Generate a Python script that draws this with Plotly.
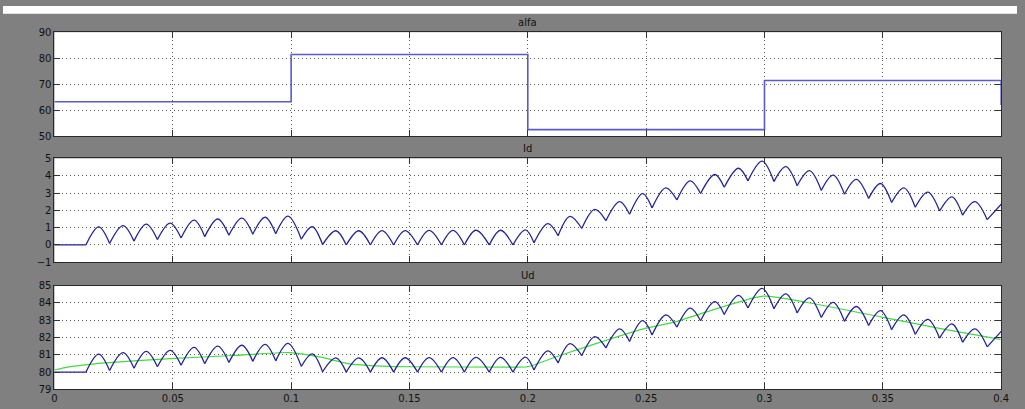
import plotly.graph_objects as go

# ---------------- data ----------------
# alfa (firing angle) step signal
alfa_t = [0.0, 0.1, 0.2, 0.3, 0.4]
alfa_v = [63.2, 81.4, 52.5, 71.4, 62.0]

# Id ripple: start, peaks and troughs
id_start_t = [0.0, 0.0133]
id_start_v = [0.0, 0.0]
id_peak_t = [0.0187, 0.0290, 0.0388, 0.0489, 0.0590, 0.0690, 0.0792, 0.0890, 0.0987,
             0.1089, 0.1189, 0.1286, 0.1384, 0.1482, 0.1583, 0.1684, 0.1781, 0.1885, 0.1990,
             0.2085, 0.2178, 0.2283, 0.2388, 0.2485, 0.2583, 0.2686, 0.2790, 0.2890, 0.2990,
             0.3090, 0.3190, 0.3290, 0.3388, 0.3490, 0.3589, 0.3690, 0.3792, 0.3889, 0.4000]
id_peak_v = [1.04, 1.12, 1.20, 1.26, 1.43, 1.50, 1.55, 1.60, 1.66,
             1.05, 0.82, 0.82, 0.83, 0.83, 0.84, 0.84, 0.85, 0.85, 0.87,
             1.23, 1.65, 2.05, 2.50, 2.97, 3.30, 3.70, 4.07, 4.43, 4.84,
             4.52, 4.29, 4.03, 3.79, 3.55, 3.30, 3.05, 2.78, 2.50, 2.35]
id_trough_t = [0.0233, 0.0336, 0.0435, 0.0535, 0.0635, 0.0737, 0.0838, 0.0935,
               0.1043, 0.1133, 0.1233, 0.1335, 0.1433, 0.1534, 0.1635, 0.1732, 0.1837, 0.1937,
               0.2026, 0.2128, 0.2228, 0.2330, 0.2430, 0.2525, 0.2630, 0.2730, 0.2830, 0.2930,
               0.3040, 0.3138, 0.3240, 0.3338, 0.3440, 0.3537, 0.3637, 0.3740, 0.3837, 0.3941]
id_trough_v = [0.09, 0.22, 0.31, 0.40, 0.48, 0.56, 0.62, 0.65,
               0.33, 0.02, 0.0, 0.0, 0.0, 0.0, 0.0, 0.0, 0.0, 0.0,
               0.12, 0.53, 0.95, 1.40, 1.77, 2.14, 2.60, 2.97, 3.33, 3.70,
               3.66, 3.42, 3.15, 2.93, 2.69, 2.45, 2.18, 1.96, 1.72, 1.46]

# Ud ripple (same instants as Id)
ud_start_v = [80.0, 80.0]
ud_peak_v = [81.04, 81.12, 81.20, 81.26, 81.43, 81.50, 81.55, 81.60, 81.66,
             81.05, 80.82, 80.82, 80.83, 80.83, 80.84, 80.84, 80.85, 80.85, 80.87,
             81.23, 81.65, 82.05, 82.50, 82.97, 83.30, 83.70, 84.07, 84.43, 84.84,
             84.52, 84.29, 84.03, 83.79, 83.55, 83.30, 83.05, 82.78, 82.50, 82.35]
ud_trough_v = [80.09, 80.22, 80.31, 80.40, 80.48, 80.56, 80.62, 80.65,
               80.33, 80.02, 80.0, 80.0, 80.0, 80.0, 80.0, 80.0, 80.0, 80.0,
               80.12, 80.53, 80.95, 81.40, 81.77, 82.14, 82.60, 82.97, 83.33, 83.70,
               83.66, 83.42, 83.15, 82.93, 82.69, 82.45, 82.18, 81.96, 81.72, 81.46]

# Ud mean (green)
udm_t = [0.0, 0.006, 0.013, 0.02, 0.035, 0.049, 0.0757, 0.0993, 0.112, 0.1245, 0.1384,
         0.15, 0.194, 0.2, 0.2136, 0.25, 0.2624, 0.271, 0.2995, 0.318, 0.3495, 0.3739, 0.3997]
udm_v = [80.12, 80.3, 80.42, 80.52, 80.66, 80.78, 80.96, 81.13, 80.88, 80.48, 80.35,
         80.31, 80.29, 80.31, 80.96, 82.54, 82.9, 83.28, 84.39, 84.02, 83.18, 82.53, 81.89]

x_ticks = [0, 0.05, 0.1, 0.15, 0.2, 0.25, 0.3, 0.35, 0.4]
x_ticktext = ["0", "0.05", "0.1", "0.15", "0.2", "0.25", "0.3", "0.35", "0.4"]
titles = ["alfa", "Id", "Ud"]


def arches(start_t, start_v, pt, pv, tt, tv):
    """Build trough-peak-trough segments (separated by gaps) so each hump is
    smoothed on its own and the troughs stay sharp cusps."""
    lows = [(start_t[-1], start_v[-1])] + list(zip(tt, tv))
    highs = list(zip(pt, pv))
    xs, ys = [], []
    for i, (ht, hv) in enumerate(highs):
        lt, lv = lows[i]
        xs += [lt, ht]
        ys += [lv, hv]
        if i + 1 < len(lows):
            xs.append(lows[i + 1][0])
            ys.append(lows[i + 1][1])
        xs.append(None)
        ys.append(None)
    return xs, ys


id_x, id_y = arches(id_start_t, id_start_v, id_peak_t, id_peak_v, id_trough_t, id_trough_v)
ud_x, ud_y = arches(id_start_t, ud_start_v, id_peak_t, ud_peak_v, id_trough_t, ud_trough_v)

# ---------------- figure ----------------
W, H = 1025, 409
fig = go.Figure()

BLUE = "#24249e"
ALFA = "#5a5ad0"
GREEN = "#3fdc3f"
fig.add_trace(go.Scatter(x=alfa_t, y=alfa_v, mode="lines", line=dict(color=ALFA, width=1.6, shape="hv"),
                         xaxis="x", yaxis="y", showlegend=False))
# Id
fig.add_trace(go.Scatter(x=id_start_t, y=id_start_v, mode="lines", line=dict(color=BLUE, width=1.3),
                         xaxis="x2", yaxis="y2", showlegend=False))
fig.add_trace(go.Scatter(x=id_x, y=id_y, mode="lines", connectgaps=False,
                         line=dict(color=BLUE, width=1.3, shape="spline", smoothing=1.0),
                         xaxis="x2", yaxis="y2", showlegend=False))
# Ud
fig.add_trace(go.Scatter(x=udm_t, y=udm_v, mode="lines", line=dict(color=GREEN, width=1.2, shape="spline", smoothing=0.6),
                         xaxis="x3", yaxis="y3", showlegend=False))
fig.add_trace(go.Scatter(x=id_start_t, y=ud_start_v, mode="lines", line=dict(color=BLUE, width=1.3),
                         xaxis="x3", yaxis="y3", showlegend=False))
fig.add_trace(go.Scatter(x=ud_x, y=ud_y, mode="lines", connectgaps=False,
                         line=dict(color=BLUE, width=1.3, shape="spline", smoothing=1.0),
                         xaxis="x3", yaxis="y3", showlegend=False))

px_l, px_r = 52, 1009
rows = [(27, 134), (157, 264), (288, 395)]
yranges = [(50, 90, 10), (-1, 5, 1), (79, 85, 1)]

axis_common = dict(showgrid=True, griddash="1px,3px", gridcolor="#5a5a5a", gridwidth=1,
                   ticks="inside", ticklen=6, tickcolor="#333333", showline=True, linecolor="#2a2a2a",
                   linewidth=1, mirror="ticks", zeroline=False,
                   tickfont=dict(family="DejaVu Sans", size=10, color="#111111"))

layout = dict(width=W, height=H, margin=dict(l=0, r=0, t=0, b=0),
              paper_bgcolor="#808080", plot_bgcolor="#ffffff")
annotations = []
for i, ((top, bot), (y0, y1, dy)) in enumerate(zip(rows, yranges)):
    sfx = "" if i == 0 else str(i + 1)
    xa = dict(axis_common, domain=[px_l / W, px_r / W], range=[0, 0.4],
              tickvals=x_ticks, ticktext=x_ticktext, showticklabels=(i == 2),
              anchor="y" + sfx)
    ya = dict(axis_common, domain=[1 - bot / H, 1 - top / H], range=[y0, y1], dtick=dy, tick0=y0,
              anchor="x" + sfx)
    layout["xaxis" + sfx] = xa
    layout["yaxis" + sfx] = ya
    annotations.append(dict(text=titles[i], x=(px_l + px_r) / 2 / W, y=1 - (top - 10) / H,
                            xref="paper", yref="paper", showarrow=False, xanchor="center", yanchor="middle",
                            font=dict(family="DejaVu Sans", size=10, color="#111111")))
layout["annotations"] = annotations
layout["shapes"] = [dict(type="rect", xref="paper", yref="paper", x0=0, x1=1, y0=1 - 8 / H, y1=1,
                         fillcolor="#ffffff", line=dict(width=0), layer="below")]
fig.update_layout(**layout)

fig.write_html("out.html", config={"displayModeBar": False},
               post_script="document.body.style.margin='0';document.body.style.padding='0';"
                           "document.documentElement.style.margin='0';document.body.style.overflow='hidden';")
